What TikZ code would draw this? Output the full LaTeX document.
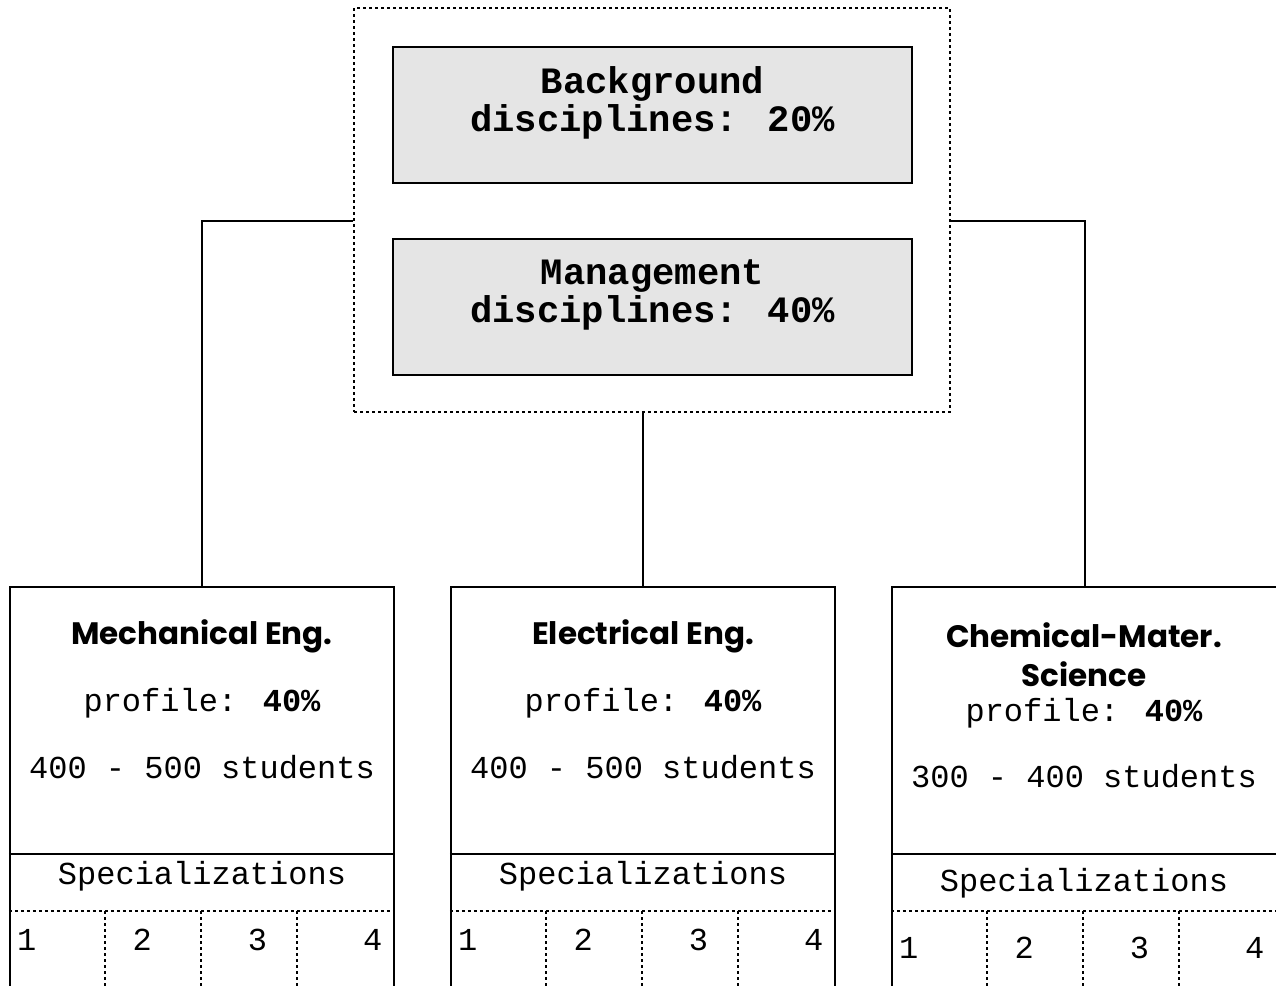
\documentclass[tikz,border=0pt]{standalone}
\usepackage{fontspec}
\usepackage{tikz}
\usetikzlibrary{positioning, calc}
\newfontfamily\courierfont{Liberation Mono}
\newfontfamily\gothicfont{Poppins}
\tikzset{
	core/.style={draw, line width=0.9pt, dash pattern=on 1.5pt off 1.5pt, minimum width=298pt, minimum height=202pt, inner sep=0pt},
	block/.style={draw, fill=gray!20, line width=0.9pt, minimum width=259.5pt, minimum height=68pt, inner sep=0pt, align=center, text depth=16pt, font=\courierfont\bfseries\fontsize{18.6}{19.2}\selectfont},
	dept/.style={draw, line width=1.2pt, minimum width=192pt, minimum height=220pt, inner sep=0pt, anchor=north},
	title/.style={font=\gothicfont\bfseries\fontsize{15.5}{19.5}\selectfont, align=center, inner sep=0pt},
	txt/.style={font=\courierfont\fontsize{16}{18}\selectfont, inner sep=0pt},
	sep/.style={draw, line width=0.9pt, dash pattern=on 1.5pt off 1.5pt},
	line/.style={draw, line width=1.2pt}
}

\begin{document}
\begin{tikzpicture}[x=0.5pt, y=-0.5pt]
	\useasboundingbox (0,0) rectangle (1276,986);
	% Common part
	\node[core] (core) at (652,210) {};
	\node[block] (back) at (652.5,115) {Background\\disciplines: 20\%};
	\node[block] (mgmt) at (652.5,307) {Management\\disciplines: 40\%};

	% Departments
	\node[dept] (mech) at (202,586) {};
	\node[dept] (elec) at (643,586) {};
	\node[dept, minimum width=193pt] (chem) at (1085,586) {};

	\node[title] (mech-t) at (202,636) {Mechanical Eng.};
	\node[txt] (mech-p) at (202,703) {profile: \textbf{40\%}};
	\node[txt] (mech-s) at (202,767) {400 - 500 students};
	\node[txt] (mech-sp) at (202,876) {Specializations};

	\node[title] (elec-t) at (643,636) {Electrical Eng.};
	\node[txt] (elec-p) at (643,703) {profile: \textbf{40\%}};
	\node[txt] (elec-s) at (643,767) {400 - 500 students};
	\node[txt] (elec-sp) at (643,876) {Specializations};

	\node[title] (chem-t) at (1084,655) {Chemical-Mater.\\Science};
	\node[txt] (chem-p) at (1084,713) {profile: \textbf{40\%}};
	\node[txt] (chem-s) at (1084,776) {300 - 400 students};
	\node[txt] (chem-sp) at (1084,883) {Specializations};

	% Specialization cells
	\foreach \d/\yn in {mech/940, elec/940, chem/948} {
		\draw[line] (\d.west |- 0,854) -- (\d.east |- 0,854);
		\draw[sep] (\d.west |- 0,911) -- (\d.east |- 0,911);
		\foreach \k in {1,2,3}
		\draw[sep] ($(\d.west |- 0,911)+(96*\k,0)$) -- ++(0,80);
		\foreach \k in {1,...,4}
		\node[txt] (\d-n\k) at ($(\d.west |- 0,\yn)+(18+115.3*\k-115.3,0)$) {\k};
	}

	% Connections
	\draw[line] ([yshift=-5.5pt]core.west) -| (mech.north);
	\draw[line] ([yshift=-5.5pt]core.east) -| (chem.north);
	\draw[line] (core.south -| elec.north) -- (elec.north);
\end{tikzpicture}
\end{document}
